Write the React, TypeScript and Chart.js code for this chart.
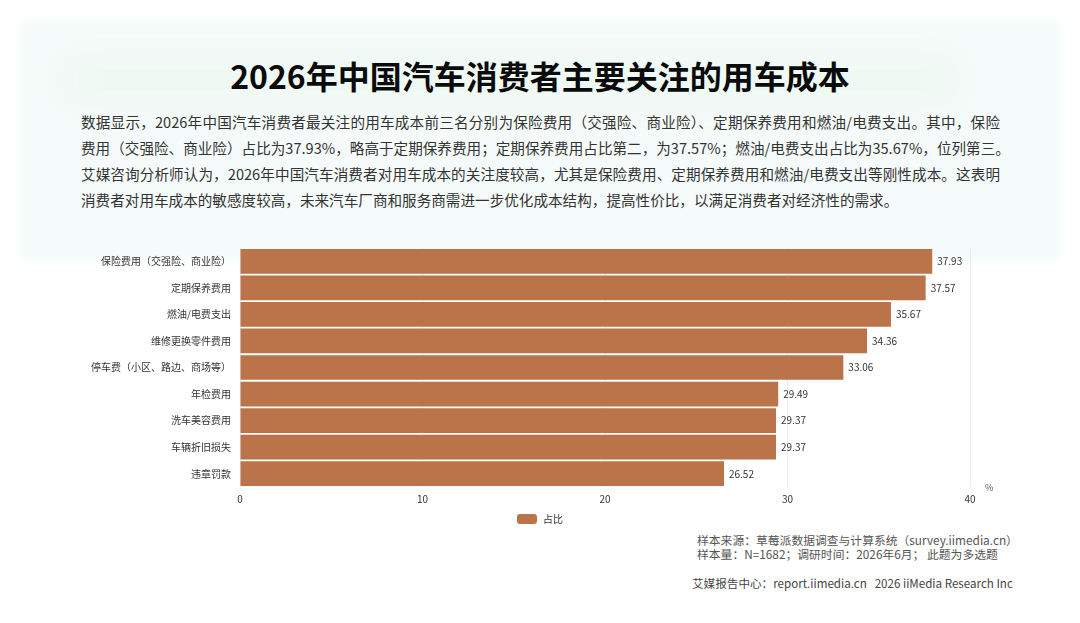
import React, { useEffect, useRef } from "react";
import { Chart, registerables } from "chart.js";

Chart.register(...registerables);

const TITLE = "2026年中国汽车消费者主要关注的用车成本";
const PARAGRAPH_LINES = [
  "数据显示，2026年中国汽车消费者最关注的用车成本前三名分别为保险费用（交强险、商业险）、定期保养费用和燃油/电费支出。其中，保险",
  "费用（交强险、商业险）占比为37.93%，略高于定期保养费用；定期保养费用占比第二，为37.57%；燃油/电费支出占比为35.67%，位列第三。",
  "艾媒咨询分析师认为，2026年中国汽车消费者对用车成本的关注度较高，尤其是保险费用、定期保养费用和燃油/电费支出等刚性成本。这表明",
  "消费者对用车成本的敏感度较高，未来汽车厂商和服务商需进一步优化成本结构，提高性价比，以满足消费者对经济性的需求。",
];

const categories = [
  "保险费用（交强险、商业险）",
  "定期保养费用",
  "燃油/电费支出",
  "维修更换零件费用",
  "停车费（小区、路边、商场等）",
  "年检费用",
  "洗车美容费用",
  "车辆折旧损失",
  "违章罚款",
];
const values = [37.93, 37.57, 35.67, 34.36, 33.06, 29.49, 29.37, 29.37, 26.52];
const seriesName = "占比";
const xTicks = [0, 10, 20, 30, 40];
const unitLabel = "%";
const sourceLines = [
  "样本来源：草莓派数据调查与计算系统（survey.iimedia.cn）",
  "样本量：N=1682；调研时间：2026年6月； 此题为多选题",
];
const footer = "艾媒报告中心：report.iimedia.cn   2026 iiMedia Research Inc";

const BAR_COLOR = "#bb744a";
const FONT = '"Noto Sans CJK SC", "Noto Sans", sans-serif';
const CANVAS_TOP = 233;
const CANVAS_H = 297;

export default function App() {
  const ref = useRef<HTMLCanvasElement | null>(null);

  useEffect(() => {
    if (!ref.current) return;
    const extras = {
      id: "extras",
      afterDatasetsDraw(chart: any) {
        const ctx = chart.ctx;
        const meta = chart.getDatasetMeta(0);
        ctx.save();
        ctx.font = `10px ${FONT}`;
        ctx.fillStyle = "#333";
        ctx.textBaseline = "middle";
        ctx.textAlign = "left";
        meta.data.forEach((bar: any, i: number) => {
          ctx.fillText(values[i].toFixed(2), bar.x + 5, bar.y);
        });
        // unit label
        ctx.fillStyle = "#555";
        ctx.font = `9px ${FONT}`;
        ctx.fillText(unitLabel, chart.chartArea.right + 15, chart.chartArea.bottom + 1);
        // legend
        const lx = 517;
        const ly = 519 - CANVAS_TOP;
        ctx.fillStyle = BAR_COLOR;
        ctx.beginPath();
        (ctx as any).roundRect(lx, ly - 5, 20, 10, 3);
        ctx.fill();
        ctx.fillStyle = "#333";
        ctx.font = `10px ${FONT}`;
        ctx.fillText(chart.data.datasets[0].label, lx + 26, ly);
        ctx.restore();
      },
    };

    const chart = new Chart(ref.current, {
      type: "bar",
      data: {
        labels: categories,
        datasets: [
          {
            label: seriesName,
            data: values,
            backgroundColor: BAR_COLOR,
            categoryPercentage: 0.93,
            barPercentage: 1,
          },
        ],
      },
      options: {
        indexAxis: "y",
        animation: false,
        responsive: false,
        maintainAspectRatio: false,
        devicePixelRatio: 1,
        layout: { padding: { left: 0, right: 110, top: 2, bottom: 19 } },
        plugins: {
          legend: { display: false },
          tooltip: { enabled: false },
        },
        scales: {
          x: {
            min: 0,
            max: 40,
            afterBuildTicks(scale: any) {
              scale.ticks = xTicks.map((v) => ({ value: v }));
            },
            grid: { color: "#ececec", drawTicks: false, lineWidth: 1 },
            border: { display: false },
            ticks: {
              padding: 6,
              color: "#333",
              font: { family: FONT, size: 10 },
            },
          },
          y: {
            afterFit(scale: any) {
              scale.width = 240;
            },
            grid: { display: false, drawTicks: false },
            border: { display: false },
            ticks: {
              padding: 9,
              color: "#333",
              font: { family: FONT, size: 10 },
            },
          },
        },
      },
      plugins: [extras],
    });
    return () => chart.destroy();
  }, []);

  return (
    <div
      style={{
        position: "fixed",
        left: 0,
        top: 0,
        width: 1080,
        height: 623,
        background: "#ffffff",
        overflow: "hidden",
        fontFamily: FONT,
      }}
    >
      <div
        style={{
          position: "absolute",
          left: 24,
          top: 24,
          width: 1032,
          height: 232,
          background: "#f5fbfa",
          boxShadow: "0 0 10px 4px #f5fbfa",
        }}
      />
      <div
        style={{
          position: "absolute",
          left: 60,
          top: 55,
          width: 900,
          height: 50,
          background: "rgba(225,245,228,0.3)",
          filter: "blur(18px)",
        }}
      />
      <div
        style={{
          position: "absolute",
          left: 0,
          top: 54,
          width: 1080,
          textAlign: "center",
          fontSize: 32,
          fontWeight: 700,
          color: "#0b0b0b",
          lineHeight: "42px",
        }}
      >
        {TITLE}
      </div>
      <div
        style={{
          position: "absolute",
          left: 81,
          top: 109,
          width: 919,
          fontSize: 14.6,
          lineHeight: "26px",
          color: "#333",
        }}
      >
        {PARAGRAPH_LINES.map((line, i) => (
          <div
            key={i}
            style={{
              whiteSpace: "nowrap",
              textAlign: i < PARAGRAPH_LINES.length - 1 ? "justify" : "left",
              textAlignLast: i < PARAGRAPH_LINES.length - 1 ? "justify" : "left",
              overflow: "visible",
            }}
          >
            {line}
          </div>
        ))}
      </div>
      <canvas
        ref={ref}
        width={1080}
        height={CANVAS_H}
        style={{ position: "absolute", left: 0, top: CANVAS_TOP, width: 1080, height: CANVAS_H }}
      />
      <div
        style={{
          position: "absolute",
          left: 697,
          top: 533,
          fontSize: 11.8,
          lineHeight: "14px",
          color: "#555",
          whiteSpace: "nowrap",
        }}
      >
        {sourceLines.map((s, i) => (
          <div key={i}>{s}</div>
        ))}
      </div>
      <div
        style={{
          position: "absolute",
          left: 692,
          top: 574,
          fontSize: 11.6,
          lineHeight: "18px",
          color: "#444",
          whiteSpace: "pre",
        }}
      >
        {footer}
      </div>
    </div>
  );
}
